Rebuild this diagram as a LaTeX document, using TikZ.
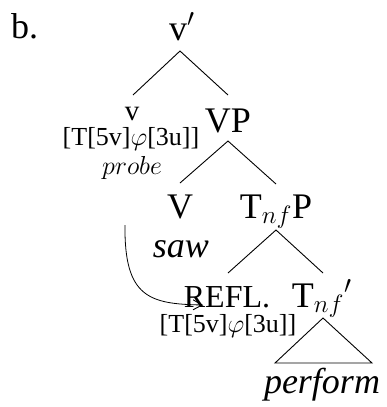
\documentclass[tikz,border=0pt]{standalone}
\usepackage{fix-cm}
\usepackage{fontspec}
\setmainfont{Liberation Serif}
\usetikzlibrary{arrows.meta}
\begin{document}
\begin{tikzpicture}[x=1pt,y=-1pt,
  lbl/.style={inner sep=0pt, outer sep=0pt, anchor=base},
  big/.style={lbl, font=\fontsize{36}{40}\selectfont},
  mid/.style={lbl, font=\fontsize{29}{32}\selectfont},
  refl/.style={lbl, font=\fontsize{32}{36}\selectfont},
  feat/.style={lbl, font=\fontsize{26}{30}\selectfont},
  probesty/.style={lbl, font=\fontsize{26}{30}\selectfont},
  branch/.style={line width=0.9pt},
  mv/.style={line width=0.8pt, -{Straight Barb[length=9pt,width=10pt,line width=0.9pt]}}]
\useasboundingbox (0,0) rectangle (387,407);
% labels
\node[big, anchor=base west] (b) at (11,38) {b.};
\node[big] (vbar) at (178,40) {v\rlap{$'$}};
\node[mid] (v) at (132,120) {v};
\node[feat] (f1) at (131,145) {[T[5v]$\varphi$[3u]]};
\node[probesty] (pr) at (132,174) {$probe$};
\node[big] (VP) at (228,132) {VP};
\node[big] (V) at (180,218) {V};
\node[big] (TP) at (276,218) {T$_{nf}$P};
\node[big] (saw) at (181,257) {\textit{saw}};
\node[refl] (refl) at (227,307) {REFL.};
\node[big] (Tnf) at (318,307) {T$_{nf}$\rlap{$'$}};
\node[feat] (f2) at (228,332) {[T[5v]$\varphi$[3u]]};
\node[big] (perf) at (322,393) {\textit{perform}};
% branch points
\coordinate (a1) at (180,51);
\coordinate (a1l) at (133,95);
\coordinate (a1r) at (228,95);
\coordinate (a2) at (228,141);
\coordinate (a2l) at (180,183);
\coordinate (a2r) at (276,184);
\coordinate (a3) at (276,230);
\coordinate (a3l) at (228,273);
\coordinate (a3r) at (323,273);
\coordinate (t1) at (323,318);
\coordinate (t2) at (275,363);
\coordinate (t3) at (372,363);
\draw[branch] (a1l) -- (a1) -- (a1r);
\draw[branch] (a2l) -- (a2) -- (a2r);
\draw[branch] (a3l) -- (a3) -- (a3r);
\draw[branch] (t1) -- (t2) -- (t3) -- cycle;
% movement arrow
\coordinate (ms) at (125,225);
\coordinate (me) at (203,305);
\draw[mv] (ms) .. controls (124,298) and (150,304) .. (me);
\end{tikzpicture}
\end{document}
